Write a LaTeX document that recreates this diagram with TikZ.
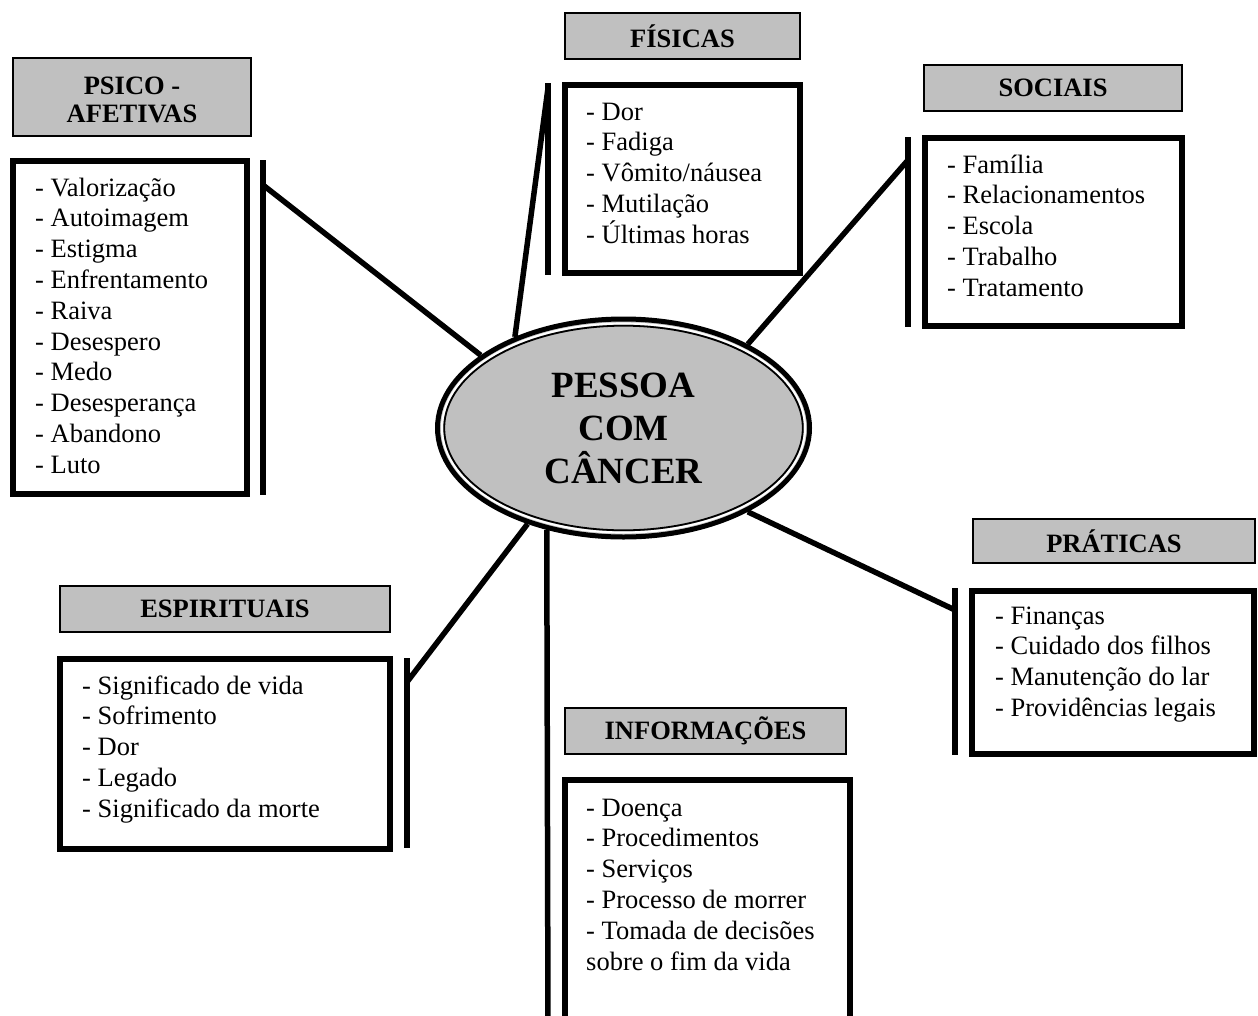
\documentclass[tikz,border=0pt]{standalone}
\usepackage{fontspec}
\setmainfont{Liberation Serif}
\usetikzlibrary{shapes.geometric}
\definecolor{hgray}{HTML}{C0C0C0}
\newcommand{\mylist}[1]{\parbox[t]{12cm}{\raggedright #1}}
\begin{document}
\begin{tikzpicture}[x=1pt,y=-1pt,
  hdr/.style={draw=black, line width=1.8pt, fill=hgray, inner sep=0pt,
    font=\bfseries\fontsize{26.5}{28}\selectfont, align=center},
  lbox/.style={draw=black, line width=6pt, inner sep=0pt},
  barline/.style={line width=6pt},
  conn/.style={line width=5.5pt},
  item/.style={anchor=base west, inner sep=0pt, font=\fontsize{26.5}{30.8}\selectfont}]
\useasboundingbox (0,0) rectangle (1258,1015);

% central ellipse
\node[ellipse, draw=black, line width=5pt, fill=hgray, minimum width=372pt, minimum height=218pt,
  inner sep=0pt, font=\bfseries\fontsize{37}{43}\selectfont, align=center] (ctr) at (623.5,428) {PESSOA\\COM\\CÂNCER};
\draw[white, line width=2.2pt] (ctr.center) ellipse [x radius=181.5pt, y radius=104.5pt];
\draw[black, line width=1.8pt] (ctr.center) ellipse [x radius=179.3pt, y radius=102.3pt];

% headers
\node[hdr, minimum width=238pt, minimum height=78pt] (hpsico) at (132,97) {};
\node[anchor=center, inner sep=0pt, font=\bfseries\fontsize{26.5}{28}\selectfont, align=center] (hpsicot) at (132,100) {PSICO -\\AFETIVAS};
\node[hdr, minimum width=235pt, minimum height=46pt] (hfis) at (682.5,36) {FÍSICAS};
\node[hdr, minimum width=258pt, minimum height=46pt] (hsoc) at (1053,88) {SOCIAIS};
\node[hdr, minimum width=282pt, minimum height=44pt] (hpra) at (1114,541) {PRÁTICAS};
\node[hdr, minimum width=330pt, minimum height=46pt] (hesp) at (225,609) {ESPIRITUAIS};
\node[hdr, minimum width=281pt, minimum height=46pt] (hinf) at (705.5,731) {INFORMAÇÕES};

% list boxes
\node[lbox, minimum width=234pt, minimum height=333pt] (lpsico) at (130,327.5) {};
\node[lbox, minimum width=235pt, minimum height=188pt] (lfis) at (682.5,179) {};
\node[lbox, minimum width=257pt, minimum height=188pt] (lsoc) at (1053.5,232) {};
\node[lbox, minimum width=282pt, minimum height=163pt] (lpra) at (1113,672.5) {};
\node[lbox, minimum width=330pt, minimum height=190pt] (lesp) at (225,754) {};
\node[lbox, minimum width=285pt, minimum height=260pt] (linf) at (707.5,910) {};

% list texts
\node[item] (tpsico) at (35,196) {\mylist{- Valorização\\- Autoimagem\\- Estigma\\- Enfrentamento\\- Raiva\\- Desespero\\- Medo\\- Desesperança\\- Abandono\\- Luto}};
\node[item] (tfis) at (586,120) {\mylist{- Dor\\- Fadiga\\- Vômito/náusea\\- Mutilação\\- Últimas horas}};
\node[item] (tsoc) at (947,173) {\mylist{- Família\\- Relacionamentos\\- Escola\\- Trabalho\\- Tratamento}};
\node[item] (tpra) at (995,624) {\mylist{- Finanças\\- Cuidado dos filhos\\- Manutenção do lar\\- Providências legais}};
\node[item] (tesp) at (82,694) {\mylist{- Significado de vida\\- Sofrimento\\- Dor\\- Legado\\- Significado da morte}};
\node[item] (tinf) at (586,816) {\mylist{- Doença\\- Procedimentos\\- Serviços\\- Processo de morrer\\- Tomada de decisões\\sobre o fim da vida}};

% bars
\coordinate (bpsicoT) at (263,160); \coordinate (bpsicoB) at (263,495);
\coordinate (bfisT) at (548,83);    \coordinate (bfisB) at (548,275);
\coordinate (bsocT) at (908,137);   \coordinate (bsocB) at (908,327);
\coordinate (bpraT) at (955,588);   \coordinate (bpraB) at (955,755);
\coordinate (bespT) at (407,658);   \coordinate (bespB) at (407,848);
\draw[barline] (bpsicoT) -- (bpsicoB);
\draw[barline] (bfisT) -- (bfisB);
\draw[barline] (bsocT) -- (bsocB);
\draw[barline] (bpraT) -- (bpraB);
\draw[barline] (bespT) -- (bespB);

% connectors
\coordinate (cpsico) at (263,185);
\coordinate (cfis) at (548,88);
\coordinate (csoc) at (908,160);
\coordinate (cpra) at (955,610);
\coordinate (cesp) at (407,682);
\coordinate (cinf) at (548,1030);
\draw[conn] (cpsico) -- (ctr.153);
\draw[conn] (cfis) -- (ctr.140);
\draw[conn] (csoc) -- (ctr.34);
\draw[conn] (cpra) -- (ctr.-34.7);
\draw[conn] (cesp) -- (ctr.225.4);
\draw[conn] (ctr.233.6) -- (cinf);
\end{tikzpicture}
\end{document}
